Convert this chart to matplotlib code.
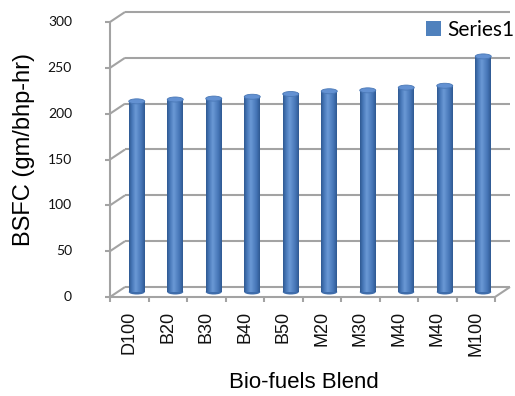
import numpy as np
import matplotlib
matplotlib.use("Agg")
import matplotlib.pyplot as plt
from matplotlib.patches import Ellipse, Patch
from matplotlib.colors import to_rgb

blends = ["D100", "B20", "B30", "B40", "B50", "M20", "M30", "M40", "M40", "M100"]
bsfc = [208, 210, 211, 213, 216, 219, 220, 223, 225, 257]
yticks = [0, 50, 100, 150, 200, 250, 300]
series_name = "Series1"

W, H, DPI = 515, 396, 100
fig = plt.figure(figsize=(W / DPI, H / DPI), dpi=DPI)
# axes sit on the mid-depth plane of the 3-D box
ax = fig.add_axes([117.5 / W, (H - 292) / H, 385 / W, 275 / H])
ax.set_xlim(-0.5, len(blends) - 0.5)
ax.set_ylim(0, 300)
ax.axis("off")

px_x = 385 / len(blends)      # pixels per category
px_y = 275 / 300              # pixels per value unit
DX = 7.5 / px_x               # half depth of the box, data units
DY = 5.0 / px_y

grid_c = "#a3a3a3"
lw = 1.5
x0, x1 = -0.5, len(blends) - 0.5
line_kw = dict(color=grid_c, lw=lw, clip_on=False, solid_capstyle="butt")

# back wall gridlines and the left-wall connectors
for v in yticks:
    ax.plot([x0 + DX, x1 + DX], [v + DY, v + DY], zorder=1, **line_kw)
    ax.plot([x0 - DX, x0 + DX], [v - DY, v + DY], zorder=1, **line_kw)
    ax.plot([x0 - DX - 5 / px_x, x0 - DX], [v - DY, v - DY], zorder=2, **line_kw)
    ax.annotate(str(v), (x0 - DX, v - DY), xytext=(-38, 0),
                textcoords="offset pixels", ha="right", va="center",
                fontsize=10, family="Lato", color="#111111",
                annotation_clip=False)

# front vertical axis and floor edges
ax.plot([x0 - DX, x0 - DX], [-DY, 300 - DY], zorder=2, **line_kw)
ax.plot([x0 - DX, x1 - DX], [-DY, -DY], zorder=2, **line_kw)
ax.plot([x1 - DX, x1 + DX], [-DY, DY], zorder=2, **line_kw)
for k in range(len(blends) + 1):
    xt = k - 0.5 - DX
    ax.plot([xt, xt], [-DY, -DY - 5 / px_y], zorder=2, **line_kw)

# cylinder shading across the bar width
stops = [0.0, 0.18, 0.42, 0.78, 1.0]
cols = np.array([to_rgb(c) for c in ["#2f5992", "#4676b7", "#6b99d6", "#4676b7", "#2f5992"]])
t = np.linspace(0, 1, 64)
grad = np.stack([np.interp(t, stops, cols[:, j]) for j in range(3)], axis=-1)[np.newaxis]

bw = 16 / px_x
eh = 5 / px_y
for i, v in enumerate(bsfc):
    ax.add_patch(Ellipse((i, 0), bw, eh, facecolor="#3f6dab", edgecolor="none",
                         zorder=3, clip_on=False))
    ax.imshow(grad, extent=[i - bw / 2, i + bw / 2, 0, v], aspect="auto",
              zorder=3.2, interpolation="bilinear", clip_on=False)
    ax.add_patch(Ellipse((i, v), bw, eh, facecolor="#6391d2", edgecolor="#4a78b6",
                         lw=0.6, zorder=4, clip_on=False))
    ax.annotate(blends[i], (i - DX, -DY), xytext=(0, -14), textcoords="offset pixels",
                rotation=90, ha="center", va="top", fontsize=13,
                family="Liberation Sans", color="#111111", annotation_clip=False)

ax.set_xlim(-0.5, len(blends) - 0.5)
ax.set_ylim(0, 300)

fig.text(24 / W, 1 - 150 / H, "BSFC (gm/bhp-hr)", rotation=90, ha="center",
         va="center", fontsize=17, family="Liberation Sans")
fig.text(304 / W, 1 - 383 / H, "Bio-fuels Blend", ha="center", va="center",
         fontsize=16, family="Liberation Sans")

fig.legend(handles=[Patch(facecolor="#4f81bd", edgecolor="none", label=series_name)],
           loc="center left", bbox_to_anchor=(411 / W, 1 - 29.5 / H),
           frameon=False, prop={"family": "Lato", "size": 15},
           handlelength=0.75, handleheight=0.75, handletextpad=0.3, borderpad=0.2)

fig.savefig("out.png", dpi=DPI)
